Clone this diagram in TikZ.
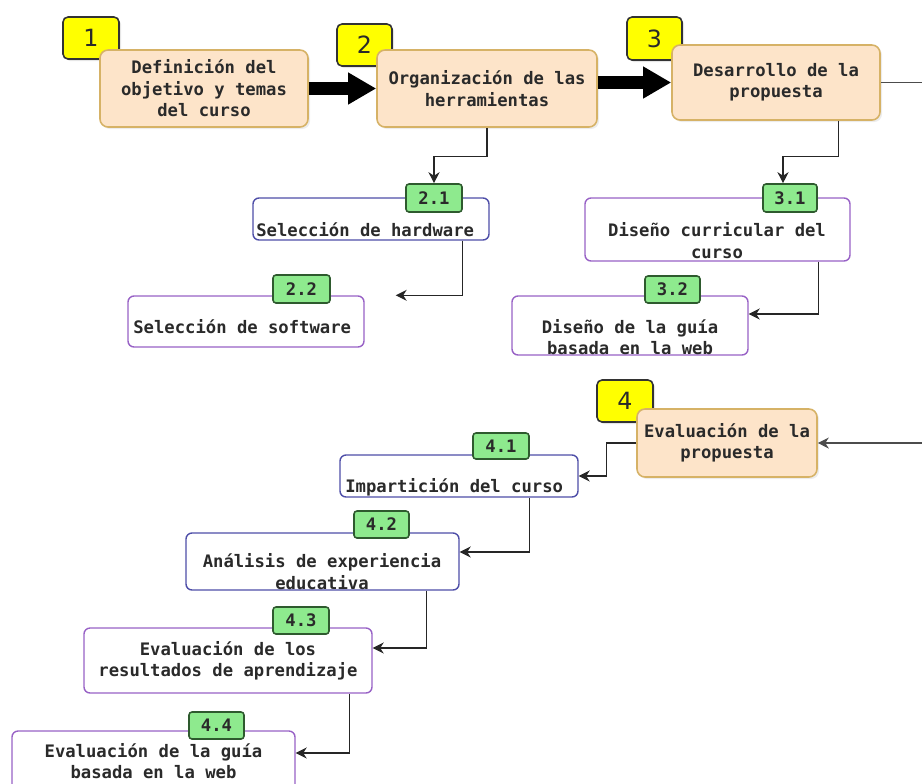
\documentclass[tikz,border=0pt]{standalone}
\usepackage{fontspec}
\setmainfont{DejaVu Sans}
\setmonofont{DejaVu Sans Mono}
\usepackage{tikz}
\usetikzlibrary{arrows.meta, positioning, calc, shadows}

\definecolor{peach}{HTML}{FDE4C9}
\definecolor{peachline}{HTML}{D6B266}
\definecolor{badgeyellow}{HTML}{FFFF00}
\definecolor{badgegreen}{HTML}{8EEA8E}
\definecolor{greenline}{HTML}{2E5A2E}
\definecolor{subblue}{HTML}{4E4EA8}
\definecolor{subpurple}{HTML}{9862C6}
\definecolor{inkgray}{HTML}{2A2A2A}

\tikzset{
    stage/.style={
        rectangle,
        rounded corners=0.16cm,
        draw=peachline,
        line width=0.9pt,
        fill=peach,
        align=center,
        text=inkgray,
        font=\fontsize{9.8}{12.2}\selectfont\ttfamily\bfseries,
        drop shadow={opacity=0.15, shadow xshift=0.04cm, shadow yshift=-0.04cm}
    },
    stagenum/.style={
        rectangle,
        rounded corners=0.1cm,
        draw=black!80,
        line width=0.9pt,
        fill=badgeyellow,
        inner sep=0pt,
        font=\fontsize{13.5}{15}\selectfont,
        text=inkgray,
        drop shadow={opacity=0.2, shadow xshift=0.04cm, shadow yshift=-0.04cm}
    },
    task/.style={
        rectangle,
        rounded corners=0.12cm,
        draw=#1,
        line width=0.8pt,
        fill=white,
        align=center,
        text=inkgray,
        font=\fontsize{9.8}{12.2}\selectfont\ttfamily\bfseries
    },
    tasknum/.style={
        rectangle,
        rounded corners=0.06cm,
        draw=greenline,
        line width=0.9pt,
        fill=badgegreen,
        inner sep=0pt,
        text=inkgray,
        font=\fontsize{9.8}{12}\selectfont\ttfamily\bfseries
    },
    tasktext/.style={
        align=center,
        inner sep=0pt,
        text=inkgray,
        font=\fontsize{9.8}{12.2}\selectfont\ttfamily\bfseries
    },
    bigarrow/.style={
        -{Triangle[length=0.56cm, width=0.60cm]},
        line width=0.26cm,
        draw=black
    },
    link/.style={
        -{Stealth[length=0.22cm, width=0.22cm, inset=0.07cm]},
        line width=0.7pt,
        draw=black!85
    }
}

\begin{document}
\begin{tikzpicture}
    \useasboundingbox (0,0) rectangle (18.44,-15.66);

    % Stage badges (under the boxes)
    \node[stagenum, minimum width=1.12cm, minimum height=0.84cm] (n1) at (1.82,-0.76) {1};
    \node[stagenum, minimum width=1.10cm, minimum height=0.84cm] (n2) at (7.29,-0.90) {2};
    \node[stagenum, minimum width=1.10cm, minimum height=0.86cm] (n3) at (13.09,-0.77) {3};
    \node[stagenum, minimum width=1.12cm, minimum height=0.84cm] (n4) at (12.50,-8.02) {4};

    % Stages
    \node[stage, minimum width=4.16cm, minimum height=1.54cm] (b1) at (4.08,-1.77)
        {Definición del\\objetivo y temas\\del curso};
    \node[stage, minimum width=4.40cm, minimum height=1.54cm] (b2) at (9.74,-1.77)
        {Organización de las\\herramientas};
    \node[stage, minimum width=4.16cm, minimum height=1.50cm] (b3) at (15.52,-1.65)
        {Desarrollo de la\\propuesta};
    \node[stage, minimum width=3.60cm, minimum height=1.36cm] (b4) at (14.54,-8.86)
        {Evaluación de la\\propuesta};

    % Tasks
    \node[task=subblue, minimum width=4.72cm, minimum height=0.84cm] (s21) at (7.42,-4.38) {};
    \node[task=subpurple, minimum width=4.72cm, minimum height=1.02cm] (s22) at (4.92,-6.43) {};
    \node[task=subpurple, minimum width=5.30cm, minimum height=1.26cm] (s31) at (14.35,-4.59) {};
    \node[task=subpurple, minimum width=4.72cm, minimum height=1.18cm] (s32) at (12.60,-6.51) {};
    \node[task=subblue, minimum width=4.76cm, minimum height=0.84cm] (s41) at (9.18,-9.52) {};
    \node[task=subblue, minimum width=5.46cm, minimum height=1.14cm] (s42) at (6.45,-11.23) {};
    \node[task=subpurple, minimum width=5.76cm, minimum height=1.30cm] (s43) at (4.56,-13.21)
        {Evaluación de los\\resultados de aprendizaje};
    \node[task=subpurple, minimum width=5.66cm, minimum height=1.20cm] (s44) at (3.07,-15.22)
        {Evaluación de la guía\\basada en la web};

    % Task texts
    \node[tasktext, anchor=west] at (5.12,-4.60) {Selección de hardware};
    \node[tasktext, anchor=west] at (2.66,-6.54) {Selección de software};
    \node[tasktext] at (14.34,-4.81) {Diseño curricular del\\curso};
    \node[tasktext] at (12.60,-6.74) {Diseño de la guía\\basada en la web};
    \node[tasktext, anchor=west] at (6.90,-9.74) {Impartición del curso};
    \node[tasktext] at (6.44,-11.43) {Análisis de experiencia\\educativa};

    % Task badges
    \node[tasknum, minimum width=1.12cm, minimum height=0.56cm] (t21) at (8.68,-3.96) {2.1};
    \node[tasknum, minimum width=1.14cm, minimum height=0.56cm] (t22) at (6.03,-5.78) {2.2};
    \node[tasknum, minimum width=1.08cm, minimum height=0.56cm] (t31) at (15.80,-3.96) {3.1};
    \node[tasknum, minimum width=1.10cm, minimum height=0.54cm] (t32) at (13.45,-5.79) {3.2};
    \node[tasknum, minimum width=1.12cm, minimum height=0.52cm] (t41) at (10.02,-8.92) {4.1};
    \node[tasknum, minimum width=1.10cm, minimum height=0.54cm] (t42) at (7.63,-10.49) {4.2};
    \node[tasknum, minimum width=1.12cm, minimum height=0.54cm] (t43) at (6.02,-12.41) {4.3};
    \node[tasknum, minimum width=1.10cm, minimum height=0.54cm] (t44) at (4.33,-14.51) {4.4};

    % Main flow
    \draw[bigarrow] (b1.east) -- (b2.west);
    \draw[bigarrow] (b2.east |- b3.west) -- (b3.west);

    % Connectors
    \draw[link] (b2.south) -- ++(0,-0.58) -| (t21.north);
    \draw[link] ($(s21.south)!0.77!(s21.south east)$) |- ([xshift=0.62cm]s22.north east);
    \draw[link] ($(b3.south)!0.6!(b3.south east)$) -- ++(0,-0.72) -| ([xshift=-0.14cm]t31.north);
    \draw[link] ($(s31.south)!0.76!(s31.south east)$) |- ([yshift=0.23cm]s32.east);
    \draw[link, draw=black!70] (b3.east) -- ++(1.0,0) |- (b4.east);
    \draw[link] (b4.west) -- ++(-0.60,0) |- (s41.east);
    \draw[link] ($(s41.south)!0.59!(s41.south east)$) |- ([yshift=0.19cm]s42.east);
    \draw[link] ($(s42.south)!0.76!(s42.south east)$) |- ([yshift=0.25cm]s43.east);
    \draw[link] ($(s43.south)!0.84!(s43.south east)$) |- ([yshift=0.16cm]s44.east);
\end{tikzpicture}
\end{document}
